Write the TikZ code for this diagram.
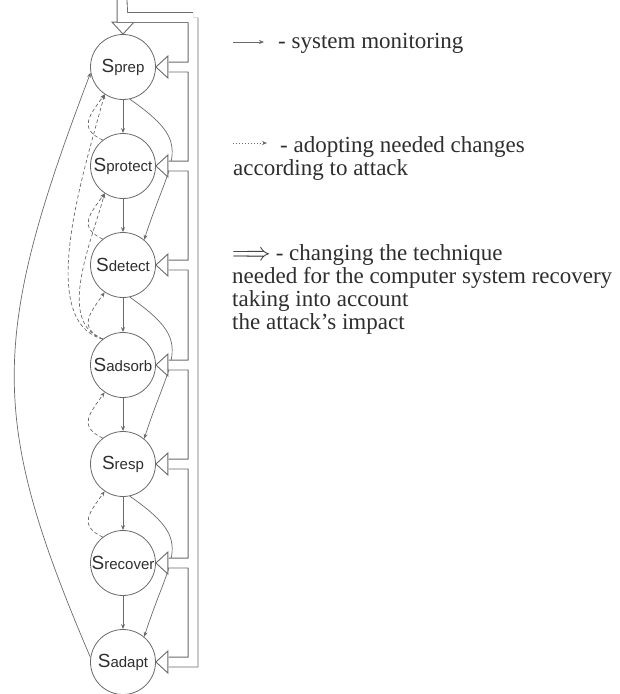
\documentclass[tikz,border=0pt]{standalone}
\usepackage{fontspec}
\setmainfont{Liberation Serif}
\newfontfamily\statefont{Liberation Sans}
\usetikzlibrary{arrows.meta, calc}
\definecolor{edgegray}{HTML}{6A6A6A}
\definecolor{textgray}{HTML}{2E2E2E}
\newcommand{\sname}[1]{{\fontsize{19}{19}\selectfont S}{\fontsize{15}{15}\selectfont #1}}

\begin{document}
\begin{tikzpicture}[x=1pt, y=1pt,
  stage/.style={circle, draw=edgegray, line width=0.8pt, minimum size=65pt,
                inner sep=0pt, font=\statefont, text=textgray},
  flow/.style={-{Stealth[length=5pt, width=4pt]}, edgegray, line width=0.7pt},
  adopt/.style={flow, dash pattern=on 3.5pt off 2.5pt},
  keydot/.style={flow, dash pattern=on 1pt off 2pt},
  bus/.style={draw=edgegray, line width=0.9pt, double=white, double distance=9pt},
  bushead/.style={draw=edgegray, line width=0.9pt, fill=white, line join=miter},
  key/.style={font=\fontsize{23}{23}\selectfont, text=textgray, inner sep=0pt,
              anchor=base west, align=left},
]
\useasboundingbox (0,0) rectangle (619,-694);

% states of the computer system
\node[stage] (prep)    at (123,-67)  {\sname{prep}};
\node[stage] (protect) at (123,-166) {\sname{protect}};
\node[stage] (detect)  at (123,-265) {\sname{detect}};
\node[stage] (adsorb)  at (123,-365) {\sname{adsorb}};
\node[stage] (resp)    at (123,-464) {\sname{resp}};
\node[stage] (recover) at (123,-563) {\sname{recover}};
\node[stage] (adapt)   at (123,-662) {\sname{adapt}};

% system monitoring
\foreach \a/\b in {prep/protect, protect/detect, detect/adsorb, adsorb/resp,
                   resp/recover, recover/adapt}
  \draw[flow] (\a) -- (\b);
\foreach \a/\b in {prep/detect, detect/resp, resp/adapt}
  \draw[flow] (\a.-78) .. controls +(-35:80) and +(72:90) .. (\b.50);
\draw[flow] (adapt.172) .. controls (-11,-420) and (-11,-340) .. (prep.190);

% adopting changes
\foreach \a/\b in {protect/prep, detect/protect, adsorb/detect, resp/adsorb,
                   recover/resp}
  \draw[adopt] (\a.128) .. controls +(155:28) and +(235:25) .. (\b.236);
\draw[adopt] (adsorb.128) .. controls +(160:50) and +(255:50) .. (protect.236);
\draw[adopt] (adsorb.128) .. controls +(165:70) and +(255:80) .. (prep.236);

% changing the technique
\draw[bushead] (prep.north) -- ++(-11,12) -- ++(22,0) -- cycle;
\foreach \n in {prep, protect, detect, adsorb, resp, recover, adapt}
  \draw[bushead] (\n.east) -- ++(12,11) -- ++(0,-22) -- cycle;
\coordinate (feed)   at (122,0);
\coordinate (bustop) at (193,-17.5);
\path[bus] (feed) -- ($(prep.north)+(0,12.7)$)
  (bustop) -| (feed)
  (bustop) |- ($(adapt.east)+(12.7,0)$)
  foreach \n in {prep, protect, detect, adsorb, resp, recover}
    { (\n.east -| bustop) -- ($(\n.east)+(12.7,0)$) };

% legend
\coordinate (k1a) at (233,-42);  \coordinate (k1b) at (264,-42);
\coordinate (k2a) at (233,-143); \coordinate (k2b) at (267,-143);
\draw[flow] (k1a) -- (k1b);
\draw[keydot] (k2a) -- (k2b);
\node[key] (monitor) at (278,-48) {- system monitoring};
\node[key] (changes) at (233,-175)
  {\hspace*{47pt}- adopting needed changes\\according to attack};
\node[key] (technique) at (232,-329)
  {$\Longrightarrow$\hspace*{5pt}- changing the technique\\
   needed for the computer system recovery\\
   taking into account\\the attack's impact};
\end{tikzpicture}
\end{document}
